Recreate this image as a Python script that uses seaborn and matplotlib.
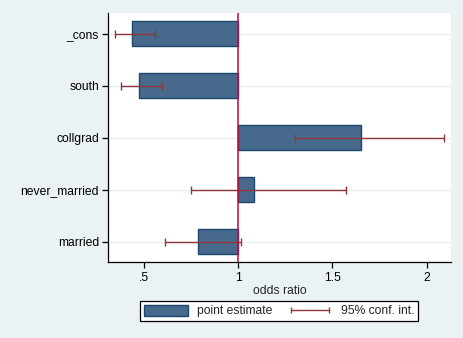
import numpy as np
import pandas as pd
import matplotlib
matplotlib.use("Agg")
import matplotlib.pyplot as plt
from matplotlib.lines import Line2D
from matplotlib.patches import Patch
from matplotlib.ticker import FixedLocator, FixedFormatter
import seaborn as sns

# ---- data ----
categories = ["_cons", "south", "collgrad", "never_married", "married"]
odds_ratio = [0.437, 0.474, 1.650, 1.082, 0.788]
ci_low = [0.347, 0.379, 1.303, 0.752, 0.612]
ci_high = [0.556, 0.596, 2.094, 1.574, 1.016]
xtick_values = [0.5, 1.0, 1.5, 2.0]
xtick_labels = [".5", "1", "1.5", "2"]
base = 1.0

BG = "#EAF2F3"
BAR_FILL = "#476A8C"
BAR_EDGE = "#1A476F"
CI_COL = "#90353B"
REF_COL = "#C8073A"
FS = 8.7

sns.set_style("white")
plt.rcParams["font.family"] = ["Liberation Sans", "DejaVu Sans"]
plt.rcParams["font.size"] = FS

df = pd.DataFrame({
    "cat": categories,
    "shift": np.array(odds_ratio) - base,   # bars drawn from the reference value 1
    "lo": np.array(ci_low) - base,
    "hi": np.array(ci_high) - base,
    "est": np.array(odds_ratio) - base,
})

fig = plt.figure(figsize=(4.64, 3.38), dpi=100, facecolor=BG)
ax = fig.add_axes([108 / 464, 76 / 338, 343 / 464, 249 / 338])
ax.set_facecolor("white")

# horizontal grid lines at categories
for i in range(len(categories)):
    ax.axhline(i, color="#E6EEF0", lw=1.0, zorder=0)

sns.barplot(data=df, x="shift", y="cat", order=categories, orient="h",
            color=BAR_FILL, saturation=1, width=0.48, edgecolor=BAR_EDGE,
            linewidth=1.0, errorbar=None, ax=ax, zorder=2)

ax.errorbar(df["est"], np.arange(len(categories)),
            xerr=[df["est"] - df["lo"], df["hi"] - df["est"]],
            fmt="none", ecolor=CI_COL, elinewidth=1.0, capsize=3.2,
            capthick=1.0, zorder=3)

ax.axvline(0, color=REF_COL, lw=1.1, zorder=4)

ax.set_xlim(0.309 - base, 2.129 - base)
ax.set_ylim(len(categories) - 1 + 0.385, -0.395)
ax.xaxis.set_major_locator(FixedLocator([v - base for v in xtick_values]))
ax.xaxis.set_major_formatter(FixedFormatter(xtick_labels))

for s in ["top", "right"]:
    ax.spines[s].set_visible(False)
for s in ["left", "bottom"]:
    ax.spines[s].set_color("black")
    ax.spines[s].set_linewidth(0.9)

ax.tick_params(axis="y", left=True, length=4, width=0.9, pad=2.5,
               labelsize=FS, colors="black")
ax.tick_params(axis="x", bottom=True, length=4.5, width=0.9, pad=3.0,
               labelsize=FS, colors="black")
ax.set_ylabel("")
ax.set_xlabel("odds ratio", fontsize=FS, labelpad=0.5)

handles = [
    Patch(facecolor=BAR_FILL, edgecolor=BAR_EDGE, linewidth=1.0),
    Line2D([0], [0], color=CI_COL, lw=1.0, marker="|", markersize=5,
           markeredgewidth=1.0),
]
leg = fig.legend(handles, ["point estimate", "95% conf. int."],
                 loc="center", bbox_to_anchor=(279 / 464, 1 - 311 / 338),
                 ncol=2, frameon=True, fancybox=False, fontsize=FS,
                 handlelength=3.7, handleheight=1.1, handletextpad=0.7,
                 columnspacing=1.3, borderpad=0.3, numpoints=2,
                 edgecolor="black", facecolor="white", framealpha=1)
leg.get_frame().set_linewidth(0.9)

fig.savefig("out.png", dpi=100, facecolor=BG)
